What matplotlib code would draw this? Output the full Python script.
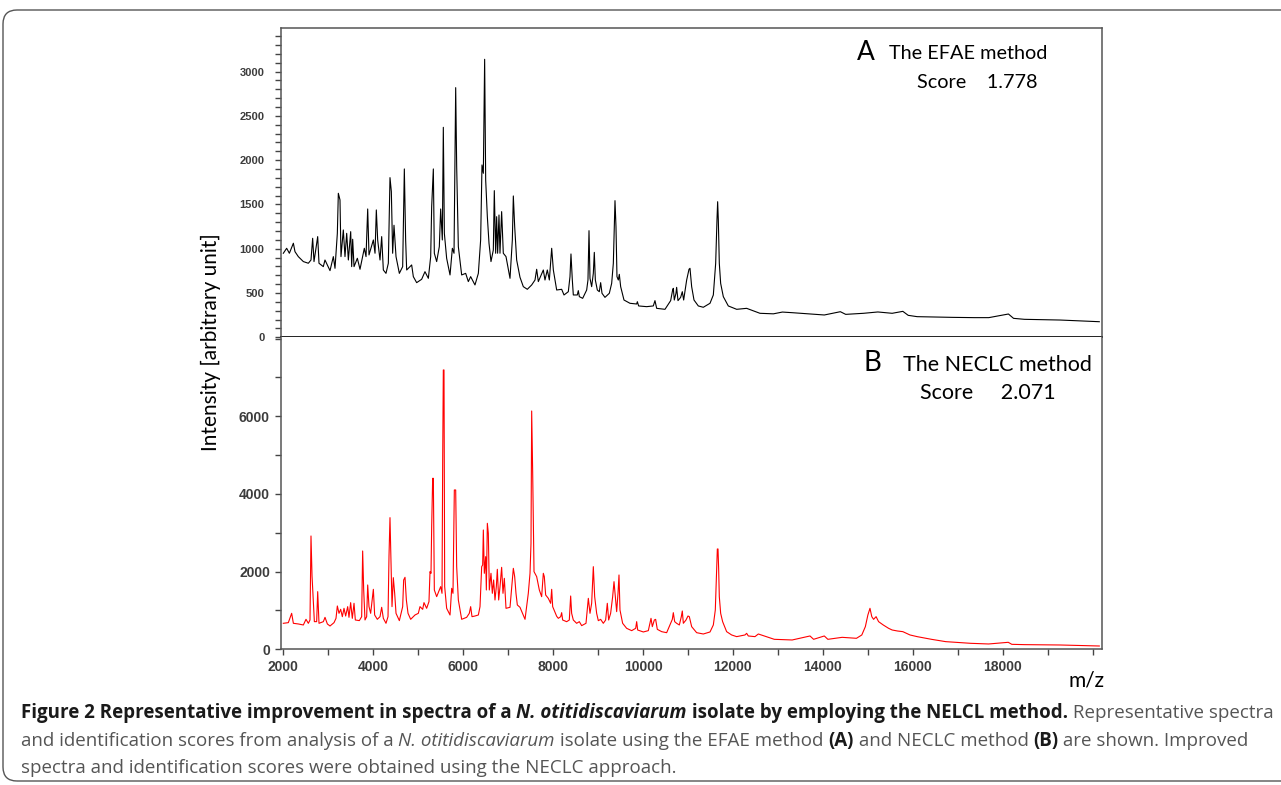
import matplotlib
matplotlib.use('Agg')
import matplotlib.pyplot as plt
from matplotlib.patches import FancyBboxPatch
from matplotlib.transforms import IdentityTransform
from matplotlib.ticker import MultipleLocator

plt.rcParams['font.family'] = ['Liberation Sans', 'DejaVu Sans']

# panel A, EFAE method: m/z and intensity
efae_mz = [2001, 2075, 2135, 2224, 2260, 2334, 2446, 2557, 2616, 2653, 2683, 2765, 2794, 2890, 2927,
           3039, 3113, 3150, 3202, 3224, 3261, 3283, 3335, 3372, 3410, 3447, 3499, 3521, 3543, 3573,
           3647, 3706, 3802, 3840, 3877, 3906, 4003, 4040, 4069, 4099, 4151, 4188, 4225, 4284, 4336,
           4373, 4403, 4432, 4462, 4507, 4581, 4655, 4692, 4721, 4744, 4855, 4892, 4966, 5077, 5151,
           5226, 5278, 5300, 5337, 5359, 5411, 5470, 5500, 5537, 5559, 5582, 5633, 5708, 5760, 5797,
           5834, 5856, 5893, 5967, 6056, 6115, 6167, 6263, 6338, 6389, 6419, 6449, 6478, 6501, 6538,
           6575, 6619, 6671, 6693, 6723, 6745, 6767, 6797, 6819, 6856, 6893, 6953, 7042, 7094, 7116,
           7146, 7190, 7264, 7338, 7427, 7524, 7598, 7635, 7672, 7783, 7820, 7872, 7917, 7969, 8006,
           8080, 8191, 8243, 8339, 8376, 8398, 8428, 8450, 8539, 8561, 8584, 8658, 8747, 8776, 8799,
           8821, 8858, 8895, 8917, 8940, 8984, 9028, 9058, 9088, 9154, 9251, 9303, 9340, 9377, 9399,
           9421, 9451, 9473, 9503, 9577, 9710, 9859, 9874, 9903, 10081, 10229, 10266, 10304, 10489,
           10615, 10659, 10674, 10696, 10733, 10748, 10778, 10837, 10874, 10904, 10971, 11023, 11045,
           11082, 11134, 11230, 11341, 11490, 11564, 11616, 11645, 11660, 11675, 11697, 11727, 11786,
           11897, 12083, 12305, 12601, 12900, 13100, 13317, 13714, 14032, 14389, 14508, 14905, 15223,
           15541, 15779, 15898, 16097, 16897, 17374, 17690, 18127, 18241, 18483, 19277, 20148]
efae_int = [949, 1005, 949, 1062, 967, 911, 855, 836, 873, 1118, 855, 1137, 836, 798, 873,
            753, 911, 779, 1174, 1626, 1551, 911, 1212, 911, 1174, 873, 1193, 798, 1107, 798,
            892, 768, 1005, 911, 1449, 930, 1099, 949, 1438, 1099, 873, 1137, 760, 722, 836,
            1803, 1645, 949, 1265, 911, 722, 798, 1901, 1099, 760, 817, 685, 617, 655, 741,
            666, 911, 1476, 1901, 949, 855, 1024, 1449, 1099, 2371, 1174, 892, 704, 1005, 949,
            2819, 1927, 1024, 704, 722, 629, 685, 591, 722, 1099, 1946, 1852, 3139, 1776, 1362,
            1062, 855, 986, 1656, 949, 1362, 949, 1381, 949, 1419, 949, 911, 666, 1099, 1596,
            1250, 873, 678, 572, 542, 591, 647, 768, 629, 760, 647, 760, 647, 1005, 760,
            534, 542, 478, 515, 685, 941, 647, 478, 478, 527, 459, 440, 534, 647, 1204,
            666, 572, 722, 959, 647, 534, 515, 617, 497, 451, 497, 609, 835, 1543, 1249,
            685, 647, 711, 572, 421, 384, 376, 402, 354, 346, 354, 414, 327, 316,
            414, 534, 553, 421, 497, 564, 414, 451, 515, 421, 647, 768, 779,
            572, 421, 354, 339, 384, 478, 835, 1324, 1531, 1324, 835, 609, 459,
            354, 316, 327, 271, 265, 285, 278, 263, 252, 289, 259, 271, 286,
            271, 293, 248, 233, 225, 222, 222, 263, 214, 203, 195, 176]

# panel B, NECLC method
neclc_mz = [2001, 2112, 2186, 2224, 2335, 2446, 2505, 2557, 2594, 2616, 2639, 2661, 2691, 2742, 2765,
            2794, 2891, 2928, 2980, 3039, 3128, 3172, 3202, 3239, 3276, 3313, 3350, 3387, 3432, 3461,
            3498, 3535, 3573, 3602, 3691, 3743, 3765, 3788, 3817, 3854, 3877, 3906, 3943, 4003, 4032,
            4091, 4151, 4188, 4225, 4284, 4329, 4351, 4373, 4395, 4418, 4447, 4477, 4507, 4581, 4655,
            4677, 4707, 4737, 4774, 4833, 4929, 5003, 5040, 5100, 5129, 5188, 5240, 5263, 5285, 5300,
            5322, 5337, 5359, 5411, 5470, 5500, 5530, 5545, 5559, 5574, 5589, 5633, 5708, 5745, 5774,
            5804, 5834, 5856, 5893, 5967, 6078, 6137, 6167, 6197, 6263, 6338, 6375, 6412, 6434, 6449,
            6471, 6501, 6516, 6538, 6560, 6582, 6619, 6649, 6678, 6708, 6738, 6760, 6790, 6820, 6856,
            6886, 6916, 6953, 7042, 7094, 7116, 7146, 7175, 7205, 7264, 7376, 7449, 7487, 7509, 7524,
            7546, 7576, 7635, 7694, 7746, 7783, 7805, 7835, 7894, 7946, 7969, 7991, 8080, 8117, 8169,
            8191, 8213, 8302, 8361, 8391, 8413, 8450, 8524, 8584, 8636, 8732, 8784, 8821, 8858, 8895,
            8925, 8969, 9006, 9058, 9117, 9169, 9206, 9236, 9280, 9325, 9355, 9384, 9414, 9444, 9466,
            9488, 9547, 9636, 9748, 9837, 9859, 9881, 10007, 10118, 10155, 10178, 10207, 10252, 10281,
            10318, 10415, 10526, 10615, 10652, 10674, 10704, 10748, 10808, 10852, 10874, 10897, 10956,
            11000, 11030, 11082, 11193, 11341, 11490, 11564, 11608, 11631, 11653, 11668, 11682, 11697,
            11727, 11771, 11860, 11971, 12083, 12268, 12305, 12342, 12490, 12565, 12920, 13317, 13714,
            13794, 14032, 14111, 14429, 14747, 14866, 14945, 15001, 15048, 15088, 15128, 15184, 15239,
            15343, 15462, 15541, 15660, 15779, 15938, 16097, 16415, 16732, 17050, 17288, 17686, 18123,
            18202, 18480, 19274, 20148]
neclc_int = [669, 686, 926, 669, 652, 626, 772, 669, 755, 2917, 1887, 1398, 712, 712, 1484,
             669, 712, 823, 652, 600, 686, 797, 1115, 926, 1029, 840, 1055, 857, 1098, 823,
             1201, 797, 1184, 755, 738, 840, 2531, 1527, 755, 840, 1656, 1098, 926, 1544, 883,
             772, 840, 1081, 797, 669, 840, 2402, 3389, 2299, 1098, 1844, 1441, 926, 738, 1098,
             1784, 1853, 1269, 926, 772, 883, 926, 1098, 1029, 1201, 1055, 1227, 1999, 1956, 3157,
             4401, 4401, 1527, 1355, 1527, 1613, 1441, 4873, 7190, 7190, 1613, 1055, 883, 1570, 1441,
             4101, 4101, 2127, 1269, 772, 823, 926, 1098, 840, 857, 883, 1098, 2127, 2170, 3071,
             1956, 2385, 1527, 3243, 2985, 1527, 1956, 1441, 1784, 1269, 1613, 2059, 1269, 1613, 2110,
             1441, 1827, 1055, 1081, 1784, 2084, 1870, 1441, 1141, 1081, 772, 1441, 1956, 2728, 6134,
             4573, 1999, 1870, 1527, 1355, 1956, 1870, 1398, 1312, 1184, 1544, 1098, 850, 797, 840,
             943, 754, 711, 754, 1372, 926, 754, 669, 711, 609, 669, 1312, 926, 1184, 2127,
             1355, 926, 737, 771, 669, 754, 1184, 754, 926, 1355, 1741, 1355, 969, 1441, 1913,
             1012, 669, 540, 480, 540, 712, 497, 446, 480, 669, 797, 583, 754, 771,
             514, 454, 428, 669, 771, 943, 712, 669, 626, 840, 986, 669, 754,
             857, 840, 583, 428, 394, 446, 626, 1012, 1784, 2582, 2582, 2085, 1355,
             926, 711, 454, 369, 326, 369, 411, 343, 326, 394, 257, 240, 343,
             257, 343, 257, 308, 283, 369, 583, 883, 1055, 840, 771, 840, 712,
             626, 540, 497, 471, 454, 369, 326, 257, 197, 171, 154, 137, 180,
             128, 120, 111, 85]

x_ticks = [2000, 4000, 6000, 8000, 10000, 12000, 14000, 16000, 18000]
a_ticks = [0, 500, 1000, 1500, 2000, 2500, 3000]
b_ticks = [0, 2000, 4000, 6000]

W, H = 1281, 785
fig = plt.figure(figsize=(W / 100, H / 100), dpi=100)


def fx(px):
    return px / W


def fy(py):
    return 1 - py / H


ax1 = fig.add_axes([fx(281), fy(337.3), fx(1102) - fx(281), fy(28.3) - fy(337.3)])
ax2 = fig.add_axes([fx(281), fy(649.3), fx(1102) - fx(281), fy(337.3) - fy(649.3)])

ax1.plot(efae_mz, efae_int, color='black', lw=0.8)
ax2.plot(neclc_mz, neclc_int, color='#ff0000', lw=0.8)

for ax in (ax1, ax2):
    ax.set_xlim(1949, 20208)
    for s in ('left', 'right', 'top', 'bottom'):
        ax.spines[s].set_color('#555555')
        ax.spines[s].set_linewidth(1.1)
    ax.tick_params(axis='both', which='both', direction='out', length=4, width=1, color='#444444')

ax1.set_ylim(0, 3489)
ax2.set_ylim(0, 8031)
ax1.spines['bottom'].set_color('#222222')
ax1.spines['bottom'].set_linewidth(1.4)
ax2.spines['top'].set_visible(False)

lab = dict(fontweight='bold', color='#3c3c3c', family='Liberation Sans')
ax1.set_yticks(a_ticks, [str(t) for t in a_ticks], fontsize=8, **lab)
ax1.yaxis.set_minor_locator(MultipleLocator(100))
ax1.tick_params(axis='y', pad=8)
ax1.tick_params(axis='x', which='both', bottom=False, labelbottom=False)

ax2.set_yticks(b_ticks, [str(t) for t in b_ticks], fontsize=10, **lab)
ax2.yaxis.set_minor_locator(MultipleLocator(1000))
ax2.set_xticks(x_ticks, [str(t) for t in x_ticks], fontsize=10, **lab)
ax2.xaxis.set_minor_locator(MultipleLocator(1000))
ax2.tick_params(axis='y', pad=4)
ax2.tick_params(axis='x', pad=4)

# labels inside the panels
fig.text(fx(866), fy(60), 'A', fontsize=19, family='Lato', ha='center', va='baseline')
fig.text(fx(888.6), fy(59.3), 'The EFAE method', fontsize=14.3, family='Lato', ha='left', va='baseline')
fig.text(fx(917), fy(88.3), 'Score    1.778', fontsize=14.3, family='Lato', ha='left', va='baseline')
fig.text(fx(872), fy(370.7), 'B', fontsize=20, family='Lato', ha='center', va='baseline')
fig.text(fx(903), fy(370.7), 'The NECLC method', fontsize=15.5, family='Lato', ha='left', va='baseline')
fig.text(fx(920), fy(399.3), 'Score     2.071', fontsize=15.5, family='Lato', ha='left', va='baseline')

fig.text(fx(211), fy(342), 'Intensity [arbitrary unit]', fontsize=15, family='Lato',
         rotation=90, ha='center', va='center')
fig.text(fx(1105), fy(686.7), 'm/z', fontsize=15, family='Lato', ha='right', va='baseline')

# caption
ink = '#1a1a1a'
grey = '#555555'
line1 = [('Figure 2 Representative improvement in spectra of a ', 'bold', 'normal', ink),
         ('N. otitidiscaviarum', 'bold', 'italic', ink),
         (' isolate by employing the NELCL method.', 'bold', 'normal', ink),
         (' Representative spectra', 'normal', 'normal', grey)]
line2 = [('and identification scores from analysis of a ', 'normal', 'normal', grey),
         ('N. otitidiscaviarum', 'normal', 'italic', grey),
         (' isolate using the EFAE method ', 'normal', 'normal', grey),
         ('(A)', 'bold', 'normal', ink),
         (' and NECLC method ', 'normal', 'normal', grey),
         ('(B)', 'bold', 'normal', ink),
         (' are shown. Improved', 'normal', 'normal', grey)]
line3 = [('spectra and identification scores were obtained using the NECLC approach.', 'normal', 'normal', grey)]

cap_font = 'Open Sans'
renderer = fig.canvas.get_renderer()


def part_width(s, size, weight, style):
    t = fig.text(0, 0, s + '|', fontsize=size, fontweight=weight, fontstyle=style, family=cap_font)
    m = fig.text(0, 0, '|', fontsize=size, fontweight=weight, fontstyle=style, family=cap_font)
    w = t.get_window_extent(renderer).width - m.get_window_extent(renderer).width
    t.remove()
    m.remove()
    return w


def draw_line(parts, x, y, size):
    for s, weight, style, col in parts:
        fig.text(fx(x), fy(y), s, fontsize=size, fontweight=weight, fontstyle=style,
                 color=col, family=cap_font, ha='left', va='baseline')
        x += part_width(s, size, weight, style)


w10 = sum(part_width(s, 10, w, st) for s, w, st, c in line1)
cap_size = 10 * 1258 / w10
draw_line(line1, 21, 718, cap_size)
draw_line(line2, 21, 746, cap_size)
draw_line(line3, 21, 773, cap_size)

# rounded frame round the whole figure
frame = FancyBboxPatch((3, H - 781), 1400, 771, boxstyle='round,pad=0,rounding_size=14',
                       transform=IdentityTransform(), fill=False, ec='#555555', lw=1.0)
fig.patches.append(frame)

fig.savefig('out.png', dpi=100)
